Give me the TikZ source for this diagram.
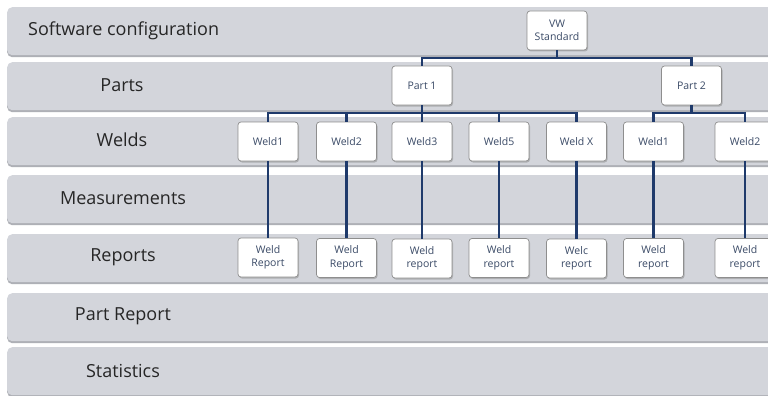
\documentclass[tikz,border=0pt]{standalone}
\usepackage{fontspec}
\setmainfont{Open Sans}
\usetikzlibrary{shadows}
\definecolor{bandfill}{HTML}{D3D5DB}
\definecolor{bandshadow}{HTML}{AEB0B6}
\definecolor{linkc}{HTML}{1F3A6B}
\definecolor{boxtext}{HTML}{3A4A66}
\definecolor{boxborder}{HTML}{8E8E8E}
\definecolor{labeltext}{HTML}{262626}
\begin{document}
\begin{tikzpicture}[x=1pt,y=-1pt,
  band/.style={fill=bandfill, rounded corners=5pt, minimum width=800pt, minimum height=48pt,
    anchor=north west, inner sep=0pt,
    drop shadow={shadow xshift=0pt, shadow yshift=-2pt, fill=bandshadow, opacity=1}},
  bandlabel/.style={font=\fontsize{18}{20}\selectfont, text=labeltext, inner sep=0pt},
  box/.style={draw=boxborder, line width=0.7pt, fill=white, rounded corners=3pt,
    minimum width=60pt, minimum height=39pt, inner sep=1pt, align=center,
    font=\fontsize{10.5}{13.5}\selectfont, text=boxtext,
    drop shadow={shadow xshift=1pt, shadow yshift=-1.5pt, opacity=0.45}},
  link/.style={draw=linkc, line width=2.5pt}]
\useasboundingbox (0,0) rectangle (768,396);
\clip (0,0) rectangle (768,396);
\fill[white] (0,0) rectangle (768,396);
% bands
\node[band] (b1) at (7,7) {};
\node[band] (b2) at (7,62) {};
\node[band] (b3) at (7,117) {};
\node[band] (b4) at (7,175) {};
\node[band] (b5) at (7,234) {};
\node[band] (b6) at (7,293) {};
\node[band] (b7) at (7,347) {};
% labels
\node[bandlabel, anchor=west] (l1) at (28,31) {Software configuration};
\node[bandlabel] (l2) at (122,85) {Parts};
\node[bandlabel] (l3) at (122,140) {Welds};
\node[bandlabel] (l4) at (123,198) {Measurements};
\node[bandlabel] (l5) at (123,257) {Reports};
\node[bandlabel] (l6) at (123,316) {Part Report};
\node[bandlabel] (l7) at (123,371) {Statistics};
% boxes
\node[box] (vw) at (557,30.5) {VW\\Standard};
\node[box] (p1) at (422,85.5) {Part 1};
\node[box] (p2) at (691.5,85.5) {Part 2};
\node[box] (w1) at (268,141.5) {Weld1};
\node[box] (w2) at (346.5,141.5) {Weld2};
\node[box] (w3) at (422,141.5) {Weld3};
\node[box] (w5) at (499,141.5) {Weld5};
\node[box] (wx) at (576.5,141.5) {Weld X};
\node[box] (w6) at (653.5,141.5) {Weld1};
\node[box] (w7) at (745,141.5) {Weld2};
\node[box] (r1) at (268,257.5) {Weld\\Report};
\node[box] (r2) at (346.5,258) {Weld\\Report};
\node[box] (r3) at (422,258.5) {Weld\\report};
\node[box] (r5) at (499,258) {Weld\\report};
\node[box] (rx) at (576.5,258.5) {Welc\\report};
\node[box] (r6) at (653.5,258) {Weld\\report};
\node[box] (r7) at (745,258) {Weld\\report};
% connectors
\coordinate (j0) at (557,58);
\coordinate (j1) at (422,113);
\coordinate (j2) at (691.5,113);
\draw[link] (vw.south) -- (j0);
\draw[link] (p1.north) |- (j0) -| (p2.north);
\draw[link] (p1.south) -- (j1);
\draw[link] (w1.north) |- (j1) -| (wx.north);
\draw[link] (w2.north) -- (w2.north |- j1);
\draw[link] (w3.north) -- (j1);
\draw[link] (w5.north) -- (w5.north |- j1);
\draw[link] (p2.south) -- (j2);
\draw[link] (w6.north) |- (j2) -| (w7.north);
\draw[link] (w1.south) -- (r1.north);
\draw[link] (w2.south) -- (r2.north);
\draw[link] (w3.south) -- (r3.north);
\draw[link] (w5.south) -- (r5.north);
\draw[link] (wx.south) -- (rx.north);
\draw[link] (w6.south) -- (r6.north);
\draw[link] (w7.south) -- (r7.north);
\end{tikzpicture}
\end{document}
